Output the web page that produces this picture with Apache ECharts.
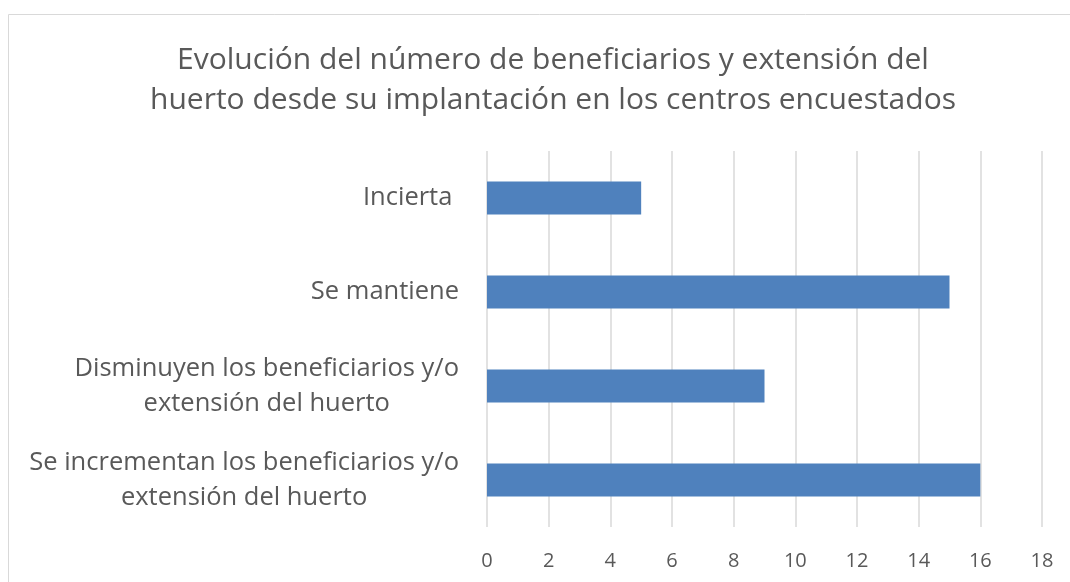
<!DOCTYPE html>
<html>
<head>
<meta charset="utf-8">
<script src="https://cdn.jsdelivr.net/npm/echarts@6/dist/echarts.min.js"></script>
<style>
	html, body { margin: 0; padding: 0; background: #fff; }
	#chart { width: 1070px; height: 582px; }
</style>
</head>
<body>
<div id="chart"></div>
<script>
var categories = [
	"Se incrementan los beneficiarios y/o\nextensión del huerto",
	"Disminuyen los beneficiarios y/o\nextensión del huerto",
	"Se mantiene",
	"Incierta "
];
var values = [16, 9, 15, 5];
var xTicks = [0, 18, 2]; // min, max, interval

var textGray = "#595959";
var font = "'Open Sans', 'Noto Sans', sans-serif";

var chart = echarts.init(document.getElementById("chart"));
chart.setOption({
	animation: false,
	graphic: [{
		type: "rect",
		shape: { x: 8.5, y: 14.5, width: 1100, height: 600 },
		style: { fill: "none", stroke: "#d9d9d9", lineWidth: 1 },
		silent: true
	}],
	title: {
		text: "Evolución del número de beneficiarios y extensión del\nhuerto desde su implantación en los centros encuestados",
		left: 548,
		top: 35,
		textAlign: "center",
		textStyle: {
			color: textGray,
			fontFamily: font,
			fontWeight: "normal",
			fontSize: 30,
			lineHeight: 40
		}
	},
	grid: { left: 487, right: 28, top: 151, bottom: 55 },
	xAxis: {
		type: "value",
		min: xTicks[0],
		max: xTicks[1],
		interval: xTicks[2],
		axisLine: { show: false },
		axisTick: { show: false },
		splitLine: { lineStyle: { color: "#d9d9d9", width: 1.5 } },
		axisLabel: { color: textGray, fontFamily: font, fontSize: 20, margin: 24 }
	},
	yAxis: {
		type: "category",
		data: categories,
		axisLine: { show: false },
		axisTick: { show: false },
		axisLabel: {
			margin: 28,
			formatter: function(v) {
				return v.split("\n").map(function(s) { return "{a|" + s + "}"; }).join("\n");
			},
			rich: {
				a: { color: textGray, fontFamily: font, fontSize: 25.5, lineHeight: 35, align: "center" }
			}
		}
	},
	series: [{
		type: "bar",
		data: values,
		barWidth: "35%",
		itemStyle: { color: "#4f81bd" }
	}]
});
</script>
</body>
</html>
